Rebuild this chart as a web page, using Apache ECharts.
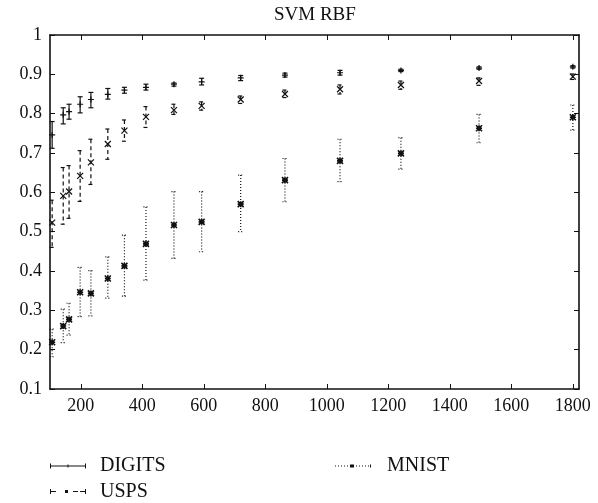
<!DOCTYPE html>
<html>
<head>
<meta charset="utf-8">
<script src="https://cdn.jsdelivr.net/npm/echarts@6/dist/echarts.min.js"></script>
<style>
  html, body { margin: 0; padding: 0; background: #fff; }
  #chart { width: 598px; height: 503px; }
</style>
</head>
<body>
<div id="chart"></div>
<script>
// training set sizes (shared by all three data sets)
const xs = [107, 143, 162, 198, 233, 288, 342, 412, 503, 593, 720, 864, 1043, 1241, 1495, 1800];

const digitsMean = [0.746, 0.797, 0.805, 0.824, 0.836, 0.849, 0.860, 0.867, 0.875, 0.881, 0.891, 0.898, 0.904, 0.910, 0.916, 0.919];
const digitsLow  = [0.712, 0.774, 0.786, 0.802, 0.815, 0.837, 0.852, 0.860, 0.870, 0.873, 0.884, 0.893, 0.898, 0.907, 0.913, 0.916];
const digitsHigh = [0.780, 0.815, 0.824, 0.843, 0.854, 0.864, 0.867, 0.875, 0.878, 0.890, 0.897, 0.903, 0.910, 0.913, 0.919, 0.922];

const uspsMean = [0.523, 0.591, 0.602, 0.642, 0.676, 0.723, 0.757, 0.792, 0.809, 0.820, 0.836, 0.850, 0.862, 0.873, 0.883, 0.894];
const uspsLow  = [0.460, 0.519, 0.534, 0.577, 0.620, 0.684, 0.730, 0.765, 0.798, 0.809, 0.826, 0.841, 0.850, 0.862, 0.872, 0.887];
const uspsHigh = [0.580, 0.663, 0.668, 0.706, 0.735, 0.761, 0.784, 0.818, 0.824, 0.830, 0.845, 0.860, 0.873, 0.883, 0.891, 0.901];

const mnistMean = [0.219, 0.260, 0.277, 0.346, 0.343, 0.381, 0.413, 0.469, 0.517, 0.525, 0.570, 0.631, 0.680, 0.699, 0.763, 0.791];
const mnistLow  = [0.182, 0.218, 0.237, 0.284, 0.286, 0.331, 0.336, 0.377, 0.432, 0.449, 0.500, 0.576, 0.627, 0.659, 0.726, 0.758];
const mnistHigh = [0.252, 0.303, 0.318, 0.409, 0.401, 0.436, 0.491, 0.563, 0.602, 0.602, 0.644, 0.686, 0.735, 0.739, 0.798, 0.822];

const xTicks = [200, 400, 600, 800, 1000, 1200, 1400, 1600, 1800];
const yTicks = [0.1, 0.2, 0.3, 0.4, 0.5, 0.6, 0.7, 0.8, 0.9, 1];

const FONT = "'Liberation Serif', 'DejaVu Serif', serif";
const INK = '#111';

const chart = echarts.init(document.getElementById('chart'));

// error bar: vertical line + short caps, dash pattern per data set
const errorBars = (name, lo, hi, dash) => ({
  name: name,
  type: 'custom',
  data: xs.map((x, i) => [x, lo[i], hi[i]]),
  encode: { x: 0, y: [1, 2] },
  silent: true,
  renderItem: (params, api) => {
    const top = api.coord([api.value(0), api.value(2)]);
    const bot = api.coord([api.value(0), api.value(1)]);
    const w = 2.5;
    const style = { stroke: INK, lineWidth: 1.2, lineDash: dash, fill: null };
    return {
      type: 'group',
      children: [
        { type: 'line', shape: { x1: top[0], y1: top[1], x2: bot[0], y2: bot[1] }, style: style },
        { type: 'line', shape: { x1: top[0] - w, y1: top[1], x2: top[0] + w, y2: top[1] }, style: style },
        { type: 'line', shape: { x1: bot[0] - w, y1: bot[1], x2: bot[0] + w, y2: bot[1] }, style: style }
      ]
    };
  }
});

const markers = (name, mean, symbol, size, width) => ({
  name: name,
  type: 'scatter',
  data: xs.map((x, i) => [x, mean[i]]),
  symbol: symbol,
  symbolSize: size,
  itemStyle: { color: 'transparent', borderColor: INK, borderWidth: width, opacity: 1 },
  z: 5
});

const PLUS = 'path://M0,5L10,5M5,0L5,10';
const CROSS = 'path://M0,0L10,10M10,0L0,10';
const STAR = 'path://M0,0L10,10M10,0L0,10M5,0L5,10M0,5L10,5M3,3L7,3L7,7L3,7Z';

// legend icons, drawn in a 36 x 5 box
const iconDigits = 'path://M0,0h1v5h-1Z M0,2h36v1h-36Z M35,0h1v5h-1Z M17.5,1h1v3h-1Z';
const iconUsps = 'path://M0,0h1v5h-1Z M0,2h6v1h-6Z M15,1h3v3h-3Z M23,2h5v1h-5Z M30,2h6v1h-6Z M35,0h1v5h-1Z';
const iconMnist = 'path://M0,2h1v1h-1Z M3,2h1v1h-1Z M6,2h1v1h-1Z M9,2h1v1h-1Z M12,2h1v1h-1Z M15,1h4v3h-4Z M21,2h1v1h-1Z M24,2h1v1h-1Z M27,2h1v1h-1Z M30,2h1v1h-1Z M33,2h1v1h-1Z M35,1h1v3h-1Z M0,1.5h0.01v2h-0.01Z';

const legendBase = {
  orient: 'vertical',
  padding: 0,
  itemWidth: 36,
  itemHeight: 5,
  itemGap: 5.5,
  selectedMode: false,
  textStyle: { fontFamily: FONT, fontSize: 20, color: INK, lineHeight: 20, padding: [0, 0, 0, 9] },
  itemStyle: { color: INK, borderWidth: 0 }
};

const axisLineStyle = { color: INK, width: 1.6 };

chart.setOption({
  animation: false,
  backgroundColor: '#fff',
  title: {
    text: 'SVM RBF',
    left: 274,
    top: 6,
    padding: 0,
    textStyle: { fontFamily: FONT, fontSize: 19, fontWeight: 'normal', color: INK }
  },
  legend: [
    Object.assign({}, legendBase, {
      left: 50, top: 456,
      data: [{ name: 'DIGITS', icon: iconDigits }, { name: 'USPS', icon: iconUsps }]
    }),
    Object.assign({}, legendBase, {
      left: 335, top: 456,
      textStyle: Object.assign({}, legendBase.textStyle, { padding: [0, 0, 0, 11] }),
      data: [{ name: 'MNIST', icon: iconMnist }]
    })
  ],
  grid: { left: 50, right: 19, top: 35, bottom: 114 },
  xAxis: [
    {
      type: 'value', min: 100, max: 1820,
      splitLine: { show: false },
      axisLine: { onZero: false, lineStyle: axisLineStyle },
      axisTick: { inside: true, length: 5, lineStyle: { color: INK, width: 1 }, customValues: xTicks },
      axisLabel: {
        customValues: xTicks, fontFamily: FONT, fontSize: 18, color: INK, margin: 8,
        formatter: v => String(v)
      }
    },
    {
      type: 'value', min: 100, max: 1820, position: 'top',
      splitLine: { show: false },
      axisLine: { onZero: false, lineStyle: axisLineStyle },
      axisTick: { inside: true, length: 5, lineStyle: { color: INK, width: 1 }, customValues: xTicks },
      axisLabel: { show: false }
    }
  ],
  yAxis: [
    {
      type: 'value', min: 0.1, max: 1,
      splitLine: { show: false },
      axisLine: { show: true, onZero: false, lineStyle: axisLineStyle },
      axisTick: { show: true, inside: true, length: 5, lineStyle: { color: INK, width: 1 }, customValues: yTicks },
      axisLabel: {
        customValues: yTicks, fontFamily: FONT, fontSize: 18, color: INK, margin: 8,
        formatter: v => String(+v.toFixed(1))
      }
    },
    {
      type: 'value', min: 0.1, max: 1, position: 'right',
      splitLine: { show: false },
      axisLine: { show: true, onZero: false, lineStyle: axisLineStyle },
      axisTick: { show: true, inside: true, length: 5, lineStyle: { color: INK, width: 1 }, customValues: yTicks },
      axisLabel: { show: false }
    }
  ],
  series: [
    errorBars('DIGITS', digitsLow, digitsHigh, null),
    errorBars('USPS', uspsLow, uspsHigh, [4, 3]),
    errorBars('MNIST', mnistLow, mnistHigh, [1, 2]),
    markers('DIGITS', digitsMean, PLUS, 6, 1.2),
    markers('USPS', uspsMean, CROSS, 6, 1.2),
    markers('MNIST', mnistMean, STAR, 6, 1.6)
  ]
});
</script>
</body>
</html>
